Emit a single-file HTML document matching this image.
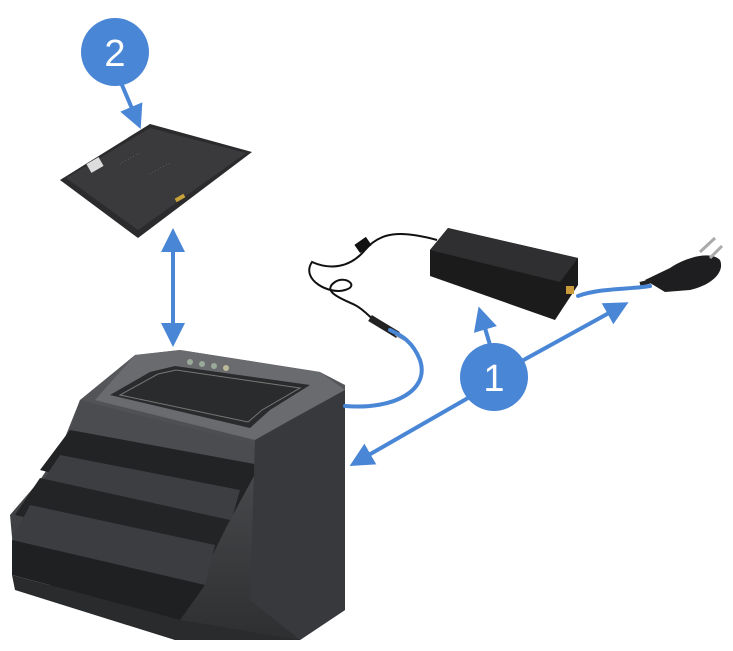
<!DOCTYPE html>
<html><head><meta charset="utf-8"><style>
html,body{margin:0;padding:0;background:#fff;}
svg{display:block;}
</style></head><body>
<svg width="733" height="651" viewBox="0 0 733 651" xmlns="http://www.w3.org/2000/svg">
<defs>
<marker id="ah" markerWidth="6" markerHeight="6" refX="3" refY="3" orient="auto" markerUnits="strokeWidth">
<path d="M0,0 L6,3 L0,6 Z" fill="#4a86d6"/></marker>
<marker id="ah2" markerWidth="6" markerHeight="6" refX="3" refY="3" orient="auto-start-reverse" markerUnits="strokeWidth">
<path d="M0,0 L6,3 L0,6 Z" fill="#4a86d6"/></marker>
<linearGradient id="bod" x1="0" y1="0" x2="0" y2="1"><stop offset="0" stop-color="#5a5b5e"/><stop offset="1" stop-color="#2e2f31"/></linearGradient>
</defs>

<polygon points="60,180 150,124 252,152 138,238" fill="#2b2b2d"/>
<polygon points="66,178 150,128 246,153 138,230" fill="#3a3a3c"/>
<rect x="88" y="160" width="14" height="10" fill="#ddd" transform="rotate(-30 95 165)"/>
<g fill="#aaa" font-family="Liberation Sans,sans-serif" font-size="5">
<text x="120" y="165" transform="rotate(-28 120 165)">· · · · · · · ·</text>
<text x="150" y="175" transform="rotate(-28 150 175)">· · · · · · · ·</text>
</g>
<rect x="175" y="196" width="10" height="4" fill="#c9a23a" transform="rotate(-30 180 198)"/>

<polygon points="135,355 180,350 320,372 345,385 345,610 300,640 175,640 15,570 10,515 40,480 60,450 80,400" fill="url(#bod)"/>
<polygon points="135,355 180,350 320,372 345,390 290,420 255,440 95,400" fill="#6a6b6e"/>
<polygon points="150,372 175,366 310,385 270,410 250,428 110,395" fill="#2a2b2d"/>
<polygon points="158,374 176,370 300,388 262,410 248,422 120,395" fill="none" stroke="#777" stroke-width="1"/>
<circle cx="190" cy="362" r="3" fill="#9a9"/><circle cx="202" cy="364" r="3" fill="#9a9"/><circle cx="214" cy="366" r="3" fill="#9a9"/><circle cx="226" cy="368" r="3" fill="#bb9"/>
<path d="M80,400 L255,445 L260,465 L70,430 Z" fill="#4b4c4f"/>
<path d="M70,430 L260,465 L230,520 L40,470 Z" fill="#222325"/>
<path d="M60,455 L240,490 L230,525 L40,485 Z" fill="#3d3e41"/>
<path d="M40,478 L230,520 L210,560 L15,515 Z" fill="#232426"/>
<path d="M30,505 L215,545 L205,585 L12,540 Z" fill="#3c3d40"/>
<path d="M12,540 L205,585 L180,620 L12,575 Z" fill="#1f2022"/>
<path d="M12,575 L180,620 L300,640 L175,640 L15,590 Z" fill="#2a2b2d"/>
<polygon points="255,440 345,390 345,610 300,640 250,600" fill="#38393c"/>

<path d="M437,240 C400,230 380,232 365,250 C350,268 330,270 312,262 C300,280 330,295 345,290 C360,286 345,275 335,282 C320,292 345,300 355,305 C365,310 372,320 380,325" stroke="#111" stroke-width="2" fill="none"/>
<rect x="356" y="240" width="14" height="10" fill="#111" transform="rotate(-35 363 245)"/>
<path d="M370,318 L398,335" stroke="#222" stroke-width="7"/>
<path d="M396,334 L405,339" stroke="#999" stroke-width="4"/>
<polygon points="430,250 448,228 578,258 578,285 555,320 430,276" fill="#1b1b1c"/>
<polygon points="430,250 448,228 578,258 560,282" fill="#2f2f31"/>
<rect x="566" y="286" width="8" height="8" fill="#c89a3a"/>
<path d="M645,280 L670,268 C685,258 710,250 720,260 C725,272 712,285 690,290 L665,292 Z" fill="#1e1e20"/>
<path d="M700,252 L715,238 M710,258 L722,246" stroke="#aaa" stroke-width="3"/>
<path d="M640,284 L652,281" stroke="#222" stroke-width="4"/>

<g stroke="#4a86d6" stroke-width="4" fill="none" stroke-linecap="round">
<path d="M345,406 C395,410 430,390 420,360 C412,340 400,335 390,330"/>
<path d="M578,296 C600,288 625,290 650,286"/>
<line x1="122" y1="85" x2="136" y2="118" marker-end="url(#ah)"/>
<line x1="173" y1="240" x2="173" y2="335" marker-end="url(#ah2)" marker-start="url(#ah2)"/>
<line x1="490" y1="345" x2="482" y2="318" marker-end="url(#ah)"/>
<line x1="520" y1="362" x2="618" y2="308" marker-end="url(#ah)"/>
<line x1="468" y1="398" x2="360" y2="460" marker-end="url(#ah)"/>
</g>
<circle cx="115" cy="52" r="34" fill="#4a86d6"/>
<text x="115" y="66" text-anchor="middle" font-family="Liberation Sans,sans-serif" font-size="38" fill="#fff" font-weight="500">2</text>
<circle cx="494" cy="377" r="34" fill="#4a86d6"/>
<text x="494" y="391" text-anchor="middle" font-family="Liberation Sans,sans-serif" font-size="38" fill="#fff" font-weight="500">1</text>
</svg>
</body></html>
